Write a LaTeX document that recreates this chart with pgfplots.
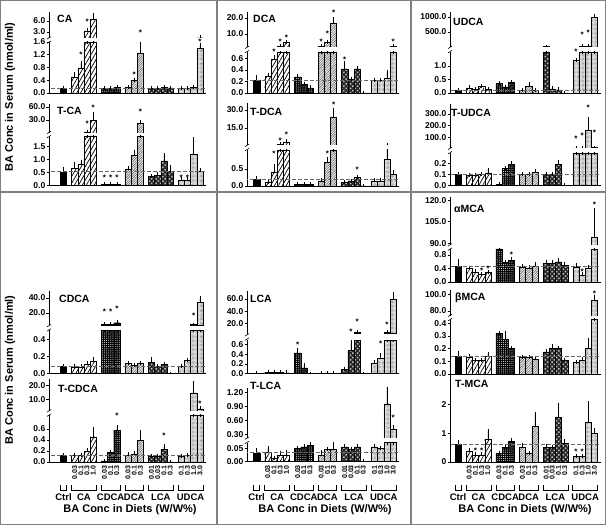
\documentclass[border=0pt]{standalone}
\usepackage{fontspec}
\setmainfont{Liberation Sans}
\usepackage{pgfplots}
\usepackage{pgfplotstable}
\pgfplotsset{compat=1.18}
\usetikzlibrary{patterns.meta}

% ---------------- data (x = bar position, y = mean, e = SD) ----------------
\pgfplotstableread{
x y e
0 0.16 0.01
1.8 0.50 0.10
2.8 0.78 0.15
3.8 3.3 0.25
4.8 6.5 1.0
6.6 0.15 0.01
7.6 0.14 0.01
8.6 0.17 0.02
10.4 0.17 0.01
11.4 0.40 0.02
12.4 1.25 0.30
14.2 0.15 0.01
15.2 0.15 0.01
16.2 0.17 0.01
17.2 0.16 0.01
19 0.14 0.01
20 0.14 0.01
21 0.17 0.02
22 1.40 0.12
}\tCA
\pgfplotstableread{
x y e
0 0.53 0.12
1.8 0.65 0.17
2.8 0.80 0.12
3.8 2.5 0
4.8 30 14
6.6 0.04 0
7.6 0.04 0
8.6 0.04 0
10.4 0.62 0.06
11.4 1.18 0.12
12.4 22 4
14.2 0.35 0.03
15.2 0.40 0.05
16.2 0.95 0.24
17.2 0.55 0.15
19 0.22 0.02
20 0.22 0.02
21 1.20 0.60
22 0.55 0.05
}\tTCA
\pgfplotstableread{
x y e
0 0.085 0.008
1.8 0.08 0.005
2.8 0.08 0.005
3.8 0.11 0.01
4.8 0.145 0.03
6.6 5 0
7.6 5 0
8.6 7 1
10.4 0.12 0.01
11.4 0.10 0.005
12.4 0.12 0.005
14.2 0.13 0.04
15.2 0.09 0.005
16.2 0.11 0.005
17.2 0 0
19 0.09 0.005
20 0.16 0.005
21 4.5 0
22 34.7 5.3
}\tCDCA
\pgfplotstableread{
x y e
0 0.12 0.01
1.8 0.12 0.01
2.8 0.12 0.01
3.8 0.20 0.02
4.8 0.46 0.14
6.6 0.02 0
7.6 0.17 0.02
8.6 0.58 0.05
10.4 0.13 0.01
11.4 0.15 0.02
12.4 0.40 0.15
14.2 0.10 0.01
15.2 0.10 0.01
16.2 0.23 0.06
17.2 0 0
19 0.10 0.01
20 0.12 0.01
21 14.7 7.2
22 3 1
}\tTCDCA
\pgfplotstableread{
x y e
0 0.23 0.04
1.8 0.29 0.03
2.8 0.58 0.04
3.8 2.5 0.3
4.8 4.8 0.3
6.6 0.28 0.01
7.6 0.15 0.01
8.6 0.09 0.01
10.4 2.3 0
11.4 5.0 0.3
12.4 17 2.5
14.2 0.42 0.10
15.2 0.24 0.01
16.2 0.42 0.01
17.2 0 0
19 0.22 0.01
20 0.22 0.01
21 0.26 0.11
22 2.5 0.3
}\tDCA
\pgfplotstableread{
x y e
0 0.20 0.03
1.8 0.10 0.02
2.8 0.40 0.18
3.8 1.5 0
4.8 3.5 0.8
6.6 0.05 0
7.6 0.05 0
8.6 0.05 0
10.4 0.15 0.02
11.4 0.70 0.10
12.4 24 6
14.2 0.10 0.01
15.2 0.15 0.01
16.2 0.25 0.02
17.2 0 0
19 0.15 0.02
20 0.15 0.02
21 0.80 0.30
22 0.35 0.05
}\tTDCA
\pgfplotstableread{
x y e
0 0.005 0
1.8 0.03 0.005
2.8 0.035 0.005
3.8 0.03 0.005
4.8 0.02 0.005
6.6 0.43 0.05
7.6 0.12 0.05
8.6 0 0
10.4 0.01 0
11.4 0.02 0
12.4 0.01 0
14.2 0.09 0.01
15.2 0.48 0.18
16.2 6 0
17.2 0 0
19 0.22 0.03
20 0.31 0.07
21 6 0
22 59 9
}\tLCA
\pgfplotstableread{
x y e
0 0.031 0.013
1.8 0.035 0.017
2.8 0.012 0.003
3.8 0.022 0.011
4.8 0.025 0.010
6.6 0.050 0.002
7.6 0.055 0.002
8.6 0.062 0.003
10.4 0.022 0.013
11.4 0.045 0.002
12.4 0.045 0.020
14.2 0.055 0.003
15.2 0.045 0.002
16.2 0.055 0.002
17.2 0 0
19 0.055 0.005
20 0.050 0.002
21 0.96 0.49
22 0.41 0.05
}\tTLCA
\pgfplotstableread{
x y e
0 0.10 0.01
1.8 0.17 0.05
2.8 0.14 0.01
3.8 0.24 0.03
4.8 0.14 0.01
6.6 0.35 0.01
7.6 0.23 0.01
8.6 0.40 0.01
10.4 0.10 0.01
11.4 0.25 0.08
12.4 0.10 0.01
14.2 12 0
15.2 0.15 0.02
16.2 0.12 0.01
17.2 0 0
19 1.20 0.02
20 20 0
21 40 0
22 1000 20
}\tUDCA
\pgfplotstableread{
x y e
0 0.10 0.005
1.8 0.09 0.005
2.8 0.09 0.005
3.8 0.10 0.005
4.8 0.11 0.03
6.6 0.01 0
7.6 0.15 0.005
8.6 0.19 0.01
10.4 0.10 0.005
11.4 0.10 0.005
12.4 0.12 0.005
14.2 0.10 0.005
15.2 0.10 0.005
16.2 0.19 0.02
17.2 0 0
19 10 0
20 10 0
21 160 95
22 12 0
}\tTUDCA
\pgfplotstableread{
x y e
0 0.48 0.13
1.8 0.40 0.03
2.8 0.30 0.03
3.8 0.22 0.02
4.8 0.28 0.03
6.6 1.5 0
7.6 0.58 0.02
8.6 0.65 0.04
10.4 0.45 0.03
11.4 0.42 0.03
12.4 0.48 0.06
14.2 0.55 0.04
15.2 0.55 0.05
16.2 0.60 0.05
17.2 0.50 0.03
19 0.45 0.04
20 0.20 0.03
21 0.42 0.03
22 94 19
}\taMCA
\pgfplotstableread{
x y e
0 0.14 0.025
1.8 0.13 0.015
2.8 0.105 0.003
3.8 0.105 0.003
4.8 0.14 0.02
6.6 0.32 0.005
7.6 0.275 0.045
8.6 0.20 0.003
10.4 0.13 0.005
11.4 0.13 0.003
12.4 0.12 0.003
14.2 0.175 0.005
15.2 0.20 0.02
16.2 0.205 0.003
17.2 0.11 0.003
19 0.09 0.003
20 0.11 0.01
21 0.20 0.07
22 93 4
}\tbMCA
\pgfplotstableread{
x y e
0 0.62 0.07
1.8 0.38 0.03
2.8 0.25 0.03
3.8 0.25 0.03
4.8 0.80 0.28
6.6 0.30 0.03
7.6 0.50 0.03
8.6 0.72 0.03
10.4 0.50 0.10
11.4 0.30 0.03
12.4 1.25 0.42
14.2 0.50 0.05
15.2 0.50 0.03
16.2 1.55 0.45
17.2 0.65 0.07
19 0.20 0.02
20 0.20 0.02
21 1.38 0.67
22 1.00 0.13
}\tTMCA

% ---------------- styles ----------------
\pgfplotsset{
  base/.style={scale only axis, xmax=23, axis y line*=left, tick align=outside,
    major tick length=2.5pt, xtick=\empty, clip=true, scaled y ticks=false,
    axis line style={black, line width=0.7pt},
    every tick/.style={black, line width=0.6pt},
    yticklabel style={font=\bfseries\fontsize{8.5}{9}\selectfont, inner sep=1pt},
    /pgf/number format/fixed, /pgf/number format/fixed zerofill,
    /pgf/number format/precision=1, /pgf/number format/1000 sep={},
    /pgf/number format/assume math mode=true},
  L/.style={base, xmin=-2.34, width=157.1pt},
  M/.style={base, xmin=-1.56, width=152.3pt},
  R/.style={base, xmin=-1.3, width=150.7pt},
  up/.style={axis x line=none, restrict y to domain=#1:9999},
  lo/.style={axis x line*=bottom, restrict y to domain*=-1:#1},
  xlab/.style={xtick={1.8,2.8,3.8,4.8,6.6,7.6,8.6,10.4,11.4,12.4,14.2,15.2,16.2,17.2,19,20,21,22},
    xticklabels={0.03,0.1,0.3,1.0,0.03,0.1,0.3,0.03,0.1,0.3,0.01,0.03,0.1,0.3,0.1,0.3,1.0,3.0},
    x tick style={draw=none},
    xticklabel style={rotate=90, anchor=east, font=\bfseries\fontsize{7}{7}\selectfont, inner sep=1pt}},
  barb/.style={ybar, bar width=6.2pt, bar shift=0pt, draw=black, line width=0.4pt,
    error bars/y dir=plus, error bars/y explicit,
    error bars/error bar style={black, line width=0.5pt, solid},
    error bars/error mark options={black, line width=0.5pt, mark size=2pt, solid}},
  ctrlbar/.style={fill=black},
  cabar/.style={fill=white, postaction={pattern={Lines[angle=60, distance=3.4pt, line width=0.7pt]}, pattern color=black}},
  cdcabar/.style={fill=black, postaction={pattern={Dots[radius=0.45pt, distance=1.9pt]}, pattern color=white}},
  dcabar/.style={fill=black!8, postaction={pattern={Lines[angle=45, distance=1.7pt, line width=0.45pt]}, pattern color=black!65}},
  lcabar/.style={fill=black!85, postaction={pattern={Dots[radius=1.05pt, distance=3.2pt, angle=45]}, pattern color=black!25}},
  udcabar/.style={fill=black!10, postaction={pattern={Dots[radius=0.35pt, distance=1.3pt]}, pattern color=black!55}},
  ctrlline/.style={black!60, line width=0.7pt, dash pattern=on 4pt off 2pt},
  stars/.style={only marks, mark=text, text mark={\bfseries\fontsize{8}{8}\selectfont *}},
}
% #1 table, #2 top of the axis segment: bars reaching above it carry no error bar there
\newcommand{\bars}[2]{%
  \addplot[barb, ctrlbar, restrict x to domain=-1:0.5] table[x=x,y=y,y error expr={(\thisrow{y}>#2)?0:\thisrow{e}}]{#1};
  \addplot[barb, cabar, restrict x to domain=1.5:5] table[x=x,y=y,y error expr={(\thisrow{y}>#2)?0:\thisrow{e}}]{#1};
  \addplot[barb, cdcabar, restrict x to domain=6:9] table[x=x,y=y,y error expr={(\thisrow{y}>#2)?0:\thisrow{e}}]{#1};
  \addplot[barb, dcabar, restrict x to domain=10:13] table[x=x,y=y,y error expr={(\thisrow{y}>#2)?0:\thisrow{e}}]{#1};
  \addplot[barb, lcabar, restrict x to domain=14:18] table[x=x,y=y,y error expr={(\thisrow{y}>#2)?0:\thisrow{e}}]{#1};
  \addplot[barb, udcabar, restrict x to domain=18.5:23] table[x=x,y=y,y error expr={(\thisrow{y}>#2)?0:\thisrow{e}}]{#1};
}
\newcommand{\ctrlline}[1]{\addplot[ctrlline] coordinates {(-3,#1) (24,#1)};}
\newcommand{\brk}[2]{%
  \draw[line width=0.6pt] ({#1-2},{525-#2-3.4}) -- ({#1+2},{525-#2-0.9});
  \draw[line width=0.6pt] ({#1-2},{525-#2+0.9}) -- ({#1+2},{525-#2+3.4});}
\newcommand{\plabel}[3]{\node[anchor=west, inner sep=0pt, font=\bfseries\fontsize{10.5}{11}\selectfont] at (#1,{525-#2}) {#3};}
\newcommand{\grouplabels}[3]{% X0, xmin, centre of x label
  \foreach \a/\b/\n in {-0.5/0.5/Ctrl, 1.3/5.3/CA, 6.1/9.1/CDCA, 9.9/12.9/DCA, 13.7/17.7/LCA, 18.5/22.5/UDCA}{
    \draw[line width=0.6pt] ({#1+(\a-(#2))*6.2},40) -- ({#1+(\a-(#2))*6.2},35) -- ({#1+(\b-(#2))*6.2},35) -- ({#1+(\b-(#2))*6.2},40);
    \node[inner sep=0pt, font=\bfseries\fontsize{9.5}{10}\selectfont] at ({#1+((\a+\b)/2-(#2))*6.2},28) {\n};
  }
  \node[inner sep=0pt, font=\bfseries\fontsize{11}{12}\selectfont] at (#3,15) {BA Conc in Diets (W/W\%)};
}

\begin{document}
\begin{tikzpicture}[x=1pt,y=1pt]
\useasboundingbox (0,0) rectangle (606,525);
% frame
\draw[black!50, line width=1.3pt] (0.8,0.8) rectangle (605.2,524.2);
\draw[black!50, line width=1.3pt] (217,0.8) -- (217,524.2);
\draw[black!50, line width=1.3pt] (411,0.8) -- (411,524.2);
\draw[black!50, line width=1.3pt] (0.8,333) -- (605.2,333);

% ================= LEFT COLUMN =================
\begin{axis}[L, up=1.36, at={(49pt,487pt)}, anchor=south west, height=26pt, ymin=1.36, ymax=8.45, ytick={3,6}]
\bars{\tCA}{9999}
\addplot[stars] coordinates {(3.8,5.8) (4.8,9.7) (12.4,2.8)};
\end{axis}
\begin{axis}[L, lo=1.6, at={(49pt,432pt)}, anchor=south west, height=51pt, ymin=0, ymax=1.6, ytick={0,0.4,0.8,1.2,1.6}]
\bars{\tCA}{1.6}
\ctrlline{0.16}
\addplot[stars] coordinates {(2.8,1.2) (11.4,0.56) (22,1.6)};
\end{axis}
\begin{axis}[L, up=2, at={(49pt,392pt)}, anchor=south west, height=28.6pt, ymin=0, ymax=66, ytick={30,60}]
\bars{\tTCA}{9999}
\addplot[stars] coordinates {(3.8,22) (4.8,59) (12.4,48)};
\end{axis}
\begin{axis}[L, lo=1.904, at={(49pt,339.5pt)}, anchor=south west, height=49.5pt, ymin=0, ymax=1.904, ytick={0,0.5,1,1.5}]
\bars{\tTCA}{1.904}
\ctrlline{0.55}
\addplot[stars] coordinates {(6.6,0.29) (7.6,0.29) (8.6,0.29) (19,0.29) (20,0.29)};
\end{axis}
\begin{axis}[L, up=3.6, at={(49pt,199.7pt)}, anchor=south west, height=34.6pt, ymin=3.6, ymax=49.7, ytick={20,40}]
\bars{\tCDCA}{9999}
\addplot[stars] coordinates {(6.6,22.3) (7.6,22.3) (8.6,25) (21,16) (22,50.3)};
\end{axis}
\begin{axis}[L, lo=0.51, at={(49pt,151.3pt)}, anchor=south west, height=43.4pt, ymin=0, ymax=0.51, ytick={0,0.2,0.4}]
\bars{\tCDCA}{0.51}
\ctrlline{0.09}
\end{axis}
\begin{axis}[L, up=1.64, at={(49pt,114pt)}, anchor=south west, height=32pt, ymin=1.64, ymax=24.5, ytick={10,20}]
\bars{\tTCDCA}{9999}
\addplot[stars] coordinates {(21,26.1) (22,6.5)};
\end{axis}
\begin{axis}[L, lo=0.855, xlab, at={(49pt,63pt)}, anchor=south west, height=47pt, ymin=0, ymax=0.855, ytick={0,0.2,0.4,0.6}]
\bars{\tTCDCA}{0.855}
\ctrlline{0.12}
\addplot[stars] coordinates {(8.6,0.84) (16.2,0.48)};
\end{axis}

% ================= MIDDLE COLUMN =================
\begin{axis}[M, up=1.9, at={(247pt,478pt)}, anchor=south west, height=35pt, ymin=1.9, ymax=23.75, ytick={10,20}]
\bars{\tDCA}{9999}
\addplot[stars] coordinates {(3.8,5.2) (4.8,7.9) (10.4,5.2) (11.4,10) (12.4,23.3) (22,5.2)};
\end{axis}
\begin{axis}[M, lo=0.713, at={(247pt,432pt)}, anchor=south west, height=41pt, ymin=0, ymax=0.713, ytick={0,0.2,0.4,0.6}]
\bars{\tDCA}{0.713}
\ctrlline{0.22}
\addplot[stars] coordinates {(2.8,0.73) (14.2,0.57)};
\end{axis}
\begin{axis}[M, up=0.8, at={(247pt,380pt)}, anchor=south west, height=42pt, ymin=0.8, ymax=35.8, ytick={15,30}]
\bars{\tTDCA}{9999}
\addplot[stars] coordinates {(3.8,4.4) (4.8,9.1) (12.4,34.1)};
\end{axis}
\begin{axis}[M, lo=1.06, at={(247pt,339pt)}, anchor=south west, height=36pt, ymin=0, ymax=1.06, ytick={0,0.5}]
\bars{\tTDCA}{1.06}
\ctrlline{0.2}
\addplot[stars] coordinates {(2.8,0.94) (11.4,0.94) (16.2,0.47)};
\end{axis}
\begin{axis}[M, up=3.9, at={(247pt,191.3pt)}, anchor=south west, height=42.4pt, ymin=3.9, ymax=72.4, ytick={20,40,60}]
\bars{\tLCA}{9999}
\addplot[stars] coordinates {(15.2,7.7) (16.2,22.7) (21,18.4) (22,81)};
\end{axis}
\begin{axis}[M, lo=0.69, at={(247pt,151.3pt)}, anchor=south west, height=33.4pt, ymin=0, ymax=0.69, ytick={0,0.2,0.4,0.6}]
\bars{\tLCA}{0.69}
\addplot[stars] coordinates {(6.6,0.59) (20,0.62)};
\end{axis}
\begin{axis}[M, up=0.22, at={(247pt,87pt)}, anchor=south west, height=50pt, ymin=0.22, ymax=1.30, ytick={0.3,0.6,0.9,1.2}, /pgf/number format/precision=2]
\bars{\tTLCA}{9999}
\addplot[stars] coordinates {(22,0.66)};
\end{axis}
\begin{axis}[M, lo=0.0707, xlab, at={(247pt,63.5pt)}, anchor=south west, height=18.8pt, ymin=0, ymax=0.0707, ytick={0,0.05}, /pgf/number format/precision=2]
\bars{\tTLCA}{0.0707}
\ctrlline{0.036}
\end{axis}

% ================= RIGHT COLUMN =================
\begin{axis}[R, up=5, at={(450pt,478pt)}, anchor=south west, height=35pt, ymin=0, ymax=1167, ytick={500,1000}]
\bars{\tUDCA}{9999}
\addplot[stars] coordinates {(20,400) (21,490) (22,1400)};
\end{axis}
\begin{axis}[R, lo=1.52, at={(450pt,432pt)}, anchor=south west, height=41pt, ymin=0, ymax=1.52, ytick={0,0.5,1}]
\bars{\tUDCA}{1.52}
\ctrlline{0.1}
\addplot[stars] coordinates {(19,1.52)};
\end{axis}
\begin{axis}[R, up=8.5, at={(450pt,377pt)}, anchor=south west, height=44pt, ymin=8.5, ymax=385, ytick={100,200,300}]
\bars{\tTUDCA}{9999}
\addplot[stars] coordinates {(19,91) (20,111) (21,356) (22,143)};
\end{axis}
\begin{axis}[R, lo=0.29, at={(450pt,339.5pt)}, anchor=south west, height=32.5pt, ymin=0, ymax=0.29, ytick={0,0.1,0.2}]
\bars{\tTUDCA}{0.29}
\ctrlline{0.1}
\end{axis}
\begin{axis}[R, up=88.8, at={(450pt,280pt)}, anchor=south west, height=48pt, ymin=88.8, ymax=122.3, ytick={90,105,120}]
\bars{\taMCA}{9999}
\addplot[stars] coordinates {(22,116.6)};
\end{axis}
\begin{axis}[R, lo=0.98, at={(450pt,243pt)}, anchor=south west, height=33pt, ymin=0, ymax=0.98, ytick={0,0.4,0.8}]
\bars{\taMCA}{0.98}
\ctrlline{0.47}
\addplot[stars] coordinates {(8.6,0.8) (3.8,0.32) (4.8,0.38) (20,0.3)};
\end{axis}
\begin{axis}[R, up=74, at={(450pt,209pt)}, anchor=south west, height=26pt, ymin=74, ymax=105.2, ytick={80,100}]
\bars{\tbMCA}{9999}
\addplot[stars] coordinates {(22,101.2)};
\end{axis}
\begin{axis}[R, lo=0.433, at={(450pt,151pt)}, anchor=south west, height=55pt, ymin=0, ymax=0.433, ytick={0,0.1,0.2,0.3,0.4}]
\bars{\tbMCA}{0.433}
\ctrlline{0.14}
\end{axis}
\begin{axis}[R, lo=3.03, xlab, at={(450pt,63pt)}, anchor=south west, height=87pt, ymin=0, ymax=3.03, ytick={0,1,2}, /pgf/number format/precision=0]
\bars{\tTMCA}{3.03}
\ctrlline{0.62}
\addplot[stars] coordinates {(2.8,0.4) (3.8,0.4) (19,0.35) (20,0.35)};
\end{axis}

% break marks
\brk{49}{40} \brk{49}{134.5} \brk{49}{327.8} \brk{49}{413}
\brk{247}{49.5} \brk{247}{147.5} \brk{247}{337} \brk{247}{440.3}
\brk{450}{49.5} \brk{450}{150.5} \brk{450}{247} \brk{450}{317.5}

% panel labels
\plabel{57}{19}{CA}
\plabel{57}{111}{T-CA}
\plabel{59}{299.3}{CDCA}
\plabel{58}{389}{T-CDCA}
\plabel{253}{19}{DCA}
\plabel{250}{112}{T-DCA}
\plabel{250}{298.7}{LCA}
\plabel{250}{386.3}{T-LCA}
\plabel{453}{21.5}{UDCA}
\plabel{451}{113}{T-UDCA}
\plabel{454}{209}{αMCA}
\plabel{455}{298}{βMCA}
\plabel{455}{383.5}{T-MCA}

% y labels
\node[rotate=90, inner sep=0pt, font=\bfseries\fontsize{11}{12}\selectfont] at (10,{525-97}) {BA Conc in Serum (nmol/ml)};
\node[rotate=90, inner sep=0pt, font=\bfseries\fontsize{11}{12}\selectfont] at (10,{525-370}) {BA Conc in Serum (nmol/ml)};

% group labels under the bottom panels
\grouplabels{49}{-2.34}{130}
\grouplabels{247}{-1.56}{325}
\grouplabels{450}{-1.3}{525}
\end{tikzpicture}
\end{document}
